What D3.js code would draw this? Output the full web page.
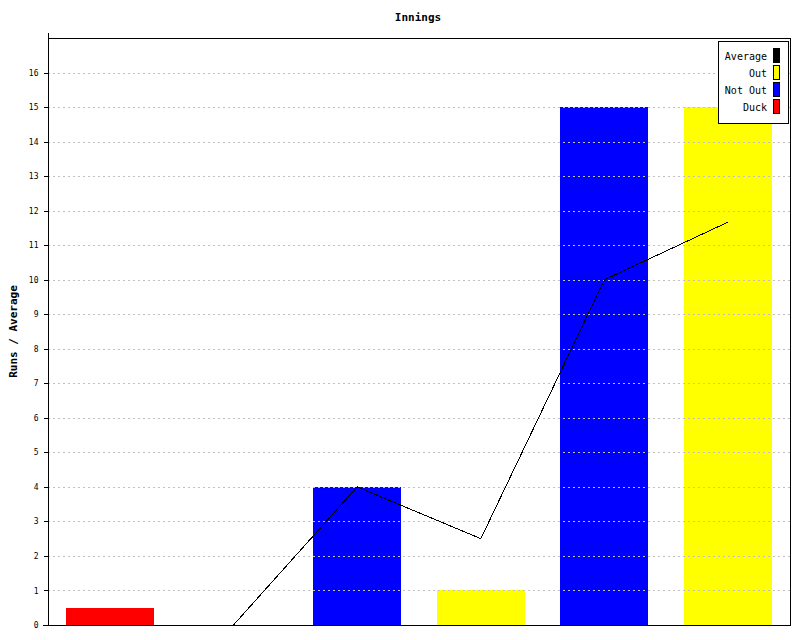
<!DOCTYPE html>
<html><head><meta charset="utf-8">
<script src="https://cdn.jsdelivr.net/npm/d3@7"></script>
<style>body{margin:0;background:#fff}svg{display:block}text{font-family:"DejaVu Sans Mono",monospace}</style>
</head><body><div id="chart"></div>
<script>
const categories = ["1","2","3","4","5","6"];
const runs = [0.5, 0, 4, 1, 15, 15];
const barTypes = ["Duck", "Out", "Not Out", "Out", "Not Out", "Out"];
const average = [0, 0, 4, 2.5, 10, 11.67];
const yTicks = [0,1,2,3,4,5,6,7,8,9,10,11,12,13,14,15,16];
const legendItems = ["Average", "Out", "Not Out", "Duck"];
const colors = {"Average":"#000000","Out":"#ffff00","Not Out":"#0000ff","Duck":"#ff0000"};

const W = 800, H = 640;
const m = {left:48, top:38, right:10, bottom:15};
const svg = d3.select("#chart").append("svg").attr("width", W).attr("height", H);
const x = d3.scaleBand().domain(categories).range([m.left, W - m.right]).paddingInner(0.288).paddingOuter(0.144);
const y = d3.scaleLinear().domain([0, 17]).range([H - m.bottom, m.top]);

// bars
svg.append("g").selectAll("rect").data(categories).join("rect")
  .attr("x", d => Math.round(x(d))).attr("width", Math.round(x.bandwidth()))
  .attr("y", (d,i) => y(runs[i])).attr("height", (d,i) => y(0) - y(runs[i]))
  .attr("fill", (d,i) => colors[barTypes[i]]).attr("shape-rendering","crispEdges");

// gridlines on top
svg.append("g").selectAll("line").data(yTicks.filter(t => t > 0)).join("line")
  .attr("x1", m.left).attr("x2", W - m.right)
  .attr("y1", d => Math.round(y(d)) + 0.5).attr("y2", d => Math.round(y(d)) + 0.5)
  .attr("stroke", "#c0c0c0").attr("stroke-dasharray", "2,3").attr("shape-rendering","crispEdges");

// line
const line = d3.line().x((d,i) => x(categories[i]) + x.bandwidth()/2).y(d => y(d));
svg.append("path").datum(average).attr("d", line).attr("fill","none").attr("stroke","#000").attr("stroke-width",1).attr("shape-rendering","crispEdges");

// frame top/right
svg.append("path").attr("d", `M${m.left},${m.top+0.5}H${W-m.right+0.5}V${H-m.bottom}`)
  .attr("fill","none").attr("stroke","#000").attr("shape-rendering","crispEdges");

// y axis
const yAxis = d3.axisLeft(y).tickValues(yTicks).tickSize(5).tickPadding(5).tickFormat(d3.format("d"));
const ga = svg.append("g").attr("transform", `translate(${m.left+0.5},0)`).call(yAxis);
ga.select(".domain").attr("d", `M0,${m.top-5}V${H-m.bottom}`).attr("shape-rendering","crispEdges");
ga.selectAll(".tick line").attr("shape-rendering","crispEdges");
ga.selectAll("text").attr("font-size", 8).attr("font-family","DejaVu Sans Mono");
// x axis line
svg.append("line").attr("x1", m.left-5).attr("x2", W - m.right + 1).attr("y1", H - m.bottom + 0.5).attr("y2", H - m.bottom + 0.5)
  .attr("stroke","#000").attr("shape-rendering","crispEdges");

// title
svg.append("text").attr("x", 418).attr("y", 21).attr("text-anchor","middle").attr("font-size", 11).attr("font-weight","bold").text("Innings");
// y label
svg.append("text").attr("transform", `translate(17,${(m.top + H - m.bottom)/2}) rotate(-90)`).attr("text-anchor","middle")
  .attr("font-size", 11).attr("font-weight","bold").text("Runs / Average");

// legend
const lg = svg.append("g");
lg.append("rect").attr("x", 718.5).attr("y", 41.5).attr("width", 70).attr("height", 82).attr("fill","#fff").attr("stroke","#000").attr("shape-rendering","crispEdges");
legendItems.forEach((k, i) => {
  const cy = 56 + i * 17;
  lg.append("text").attr("x", 767).attr("y", cy + 4).attr("text-anchor","end").attr("font-size", 10).text(k);
  lg.append("rect").attr("x", 773.5).attr("y", cy - 7.5).attr("width", 6).attr("height", 14)
    .attr("fill", colors[k]).attr("stroke","#000").attr("shape-rendering","crispEdges");
});
</script></body></html>
